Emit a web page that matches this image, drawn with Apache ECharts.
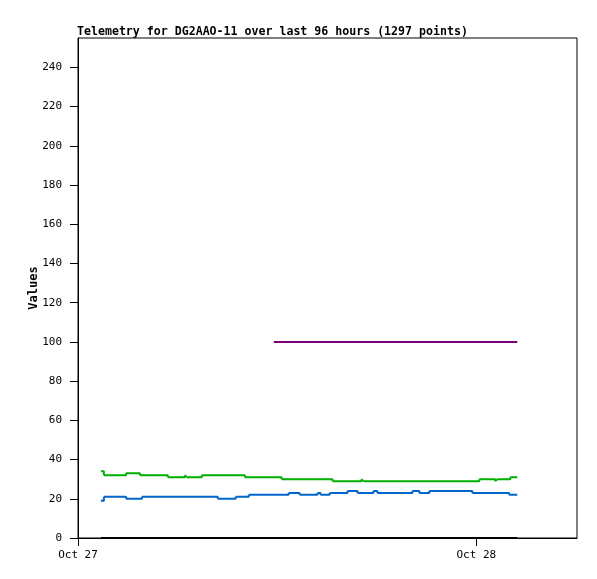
<!DOCTYPE html>
<html>
<head>
<meta charset="utf-8">
<script src="https://cdn.jsdelivr.net/npm/echarts@6/dist/echarts.min.js"></script>
<style>html,body{margin:0;padding:0;background:#fff;}#c{width:597px;height:579px;}</style>
</head>
<body>
<div id="c"></div>
<script>
// hours since Oct 27 00:00
const xTickLabels = ["Oct 27", "Oct 28"];
const greenHours = [1.38, 1.56, 2.89, 3.73, 5.41, 6.44, 6.56, 7.46, 10.05, 12.27, 15.34, 17.08, 17.20, 24.18, 25.14, 25.26, 26.05, 26.47];
const greenVals  = [34,   32,   33,   32,   31,   32,   31,   32,   31,    30,    29,    30,    29,    30,    29,    30,    31,    31];
const blueHours = [1.38, 1.56, 2.89, 3.85, 8.42, 9.50, 10.29, 12.69, 13.35, 14.43, 14.61, 15.16, 16.24, 16.84, 17.80, 18.04, 20.15, 20.57, 21.17, 23.76, 25.98, 26.47];
const blueVals  = [19,   21,   20,   21,   20,   21,   22,    23,    22,    23,    22,    23,    24,    23,    24,    23,    24,    23,    24,    23,    22,    22];
const purpleHours = [11.80, 26.47];
const purpleVals  = [100, 100];
const blackHours = [1.38, 26.47];
const blackVals  = [0, 0];

// value holds until the next sample time; each flat piece (with its riser) is its own sub-path
const stepPairs = (h, v) => {
  const out = [];
  for (let i = 0; i < h.length - 1; i++) {
    out.push([h[i], v[i]], [h[i + 1], v[i]]);
    if (v[i + 1] !== v[i]) out.push([h[i + 1], v[i + 1]]);
    out.push([h[i + 1], '-']);
  }
  return out;
};
const font = '"DejaVu Sans Mono", "Liberation Mono", monospace';

const chart = echarts.init(document.getElementById('c'), null, {renderer: 'canvas'});
chart.setOption({
  animation: false,
  backgroundColor: '#ffffff',
  title: {
    text: 'Telemetry for DG2AAO-11 over last 96 hours (1297 points)',
    left: 72, top: 21,
    textStyle: {fontFamily: font, fontSize: 11.6, fontWeight: 'bold', color: '#000'}
  },
  grid: {left: 78, top: 38, width: 499, height: 500, show: true, borderColor: '#000', borderWidth: 1, backgroundColor: 'transparent'},
  xAxis: {
    type: 'value', min: 0, max: 30.07, interval: 24,
    axisLine: {show: true, lineStyle: {color: '#000', width: 1}},
    axisTick: {show: true, length: 8, inside: false, lineStyle: {color: '#000'}},
    splitLine: {show: false},
    axisLabel: {
      showMaxLabel: false, margin: 12, color: '#000', fontFamily: font, fontSize: 11,
      formatter: v => xTickLabels[Math.round(v / 24)] || ''
    }
  },
  yAxis: {
    type: 'value', min: 0, max: 255, interval: 20,
    name: 'Values', nameLocation: 'middle', nameGap: 38, nameRotate: 90, nameMoveOverlap: false,
    nameTextStyle: {fontFamily: font, fontSize: 12, fontWeight: 'bold', color: '#000'},
    axisLine: {show: true, lineStyle: {color: '#000', width: 1}},
    axisTick: {show: true, length: 8, lineStyle: {color: '#000'}},
    splitLine: {show: false},
    axisLabel: {showMaxLabel: false, margin: 16, color: '#000', fontFamily: font, fontSize: 11}
  },
  series: [
    {type: 'line', data: stepPairs(blackHours, blackVals), showSymbol: false, connectNulls: false, lineStyle: {color: '#000000', width: 2}},
    {type: 'line', data: stepPairs(greenHours, greenVals), showSymbol: false, connectNulls: false, lineStyle: {color: '#00b000', width: 2}},
    {type: 'line', data: stepPairs(blueHours, blueVals), showSymbol: false, connectNulls: false, lineStyle: {color: '#0066cc', width: 2}},
    {type: 'line', data: stepPairs(purpleHours, purpleVals), showSymbol: false, connectNulls: false, lineStyle: {color: '#770077', width: 2}}
  ]
});
</script>
</body>
</html>
